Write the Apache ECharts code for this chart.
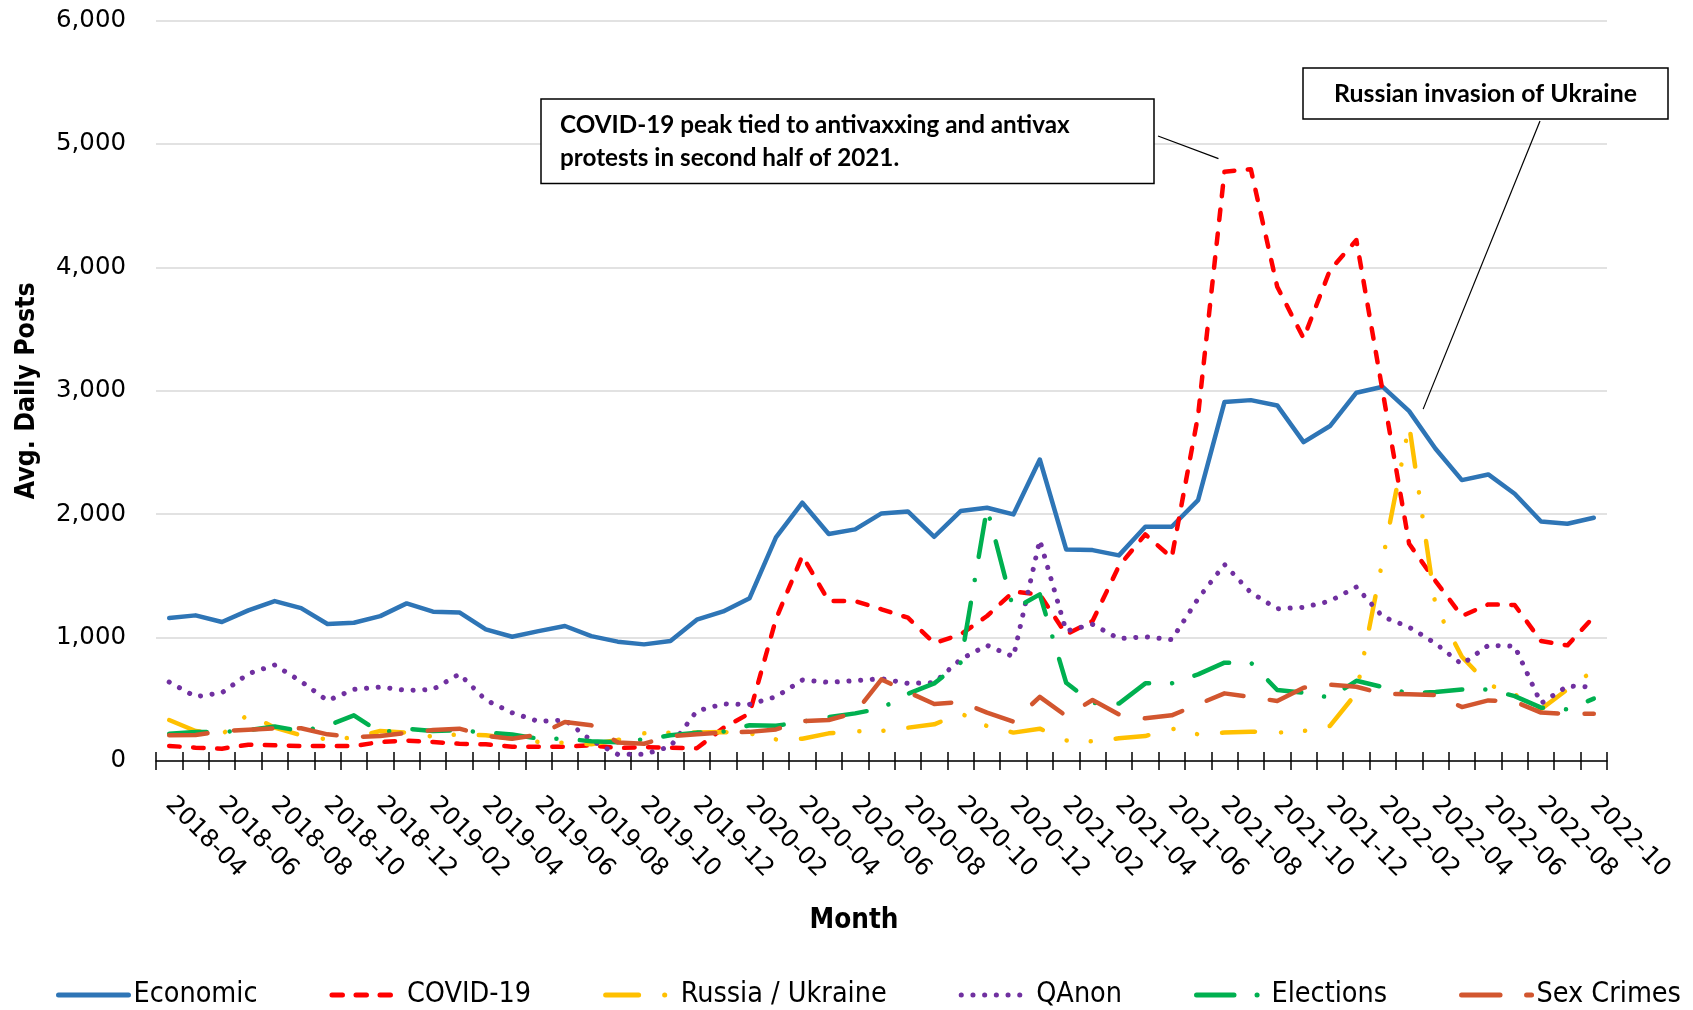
<!DOCTYPE html>
<html><head><meta charset="utf-8">
<script src="https://cdn.jsdelivr.net/npm/echarts@6/dist/echarts.min.js"></script>
<style>html,body{margin:0;padding:0;background:#fff}#c{width:1693px;height:1010px}</style>
</head><body><div id="c"></div>
<script>
const months = ['2018-04','2018-05','2018-06','2018-07','2018-08','2018-09','2018-10','2018-11','2018-12',
  '2019-01','2019-02','2019-03','2019-04','2019-05','2019-06','2019-07','2019-08','2019-09','2019-10','2019-11','2019-12',
  '2020-01','2020-02','2020-03','2020-04','2020-05','2020-06','2020-07','2020-08','2020-09','2020-10','2020-11','2020-12',
  '2021-01','2021-02','2021-03','2021-04','2021-05','2021-06','2021-07','2021-08','2021-09','2021-10','2021-11','2021-12',
  '2022-01','2022-02','2022-03','2022-04','2022-05','2022-06','2022-07','2022-08','2022-09','2022-10'];
const economic = [1158,1180,1126,1220,1296,1239,1110,1120,1174,1277,1210,1204,1066,1007,1052,1094,1012,967,945,972,1145,1212,1319,1812,2093,1839,1877,2006,2022,1817,2025,2052,1998,2443,1714,1709,1666,1898,1898,2114,2908,2924,2881,2584,2714,2984,3032,2835,2530,2276,2322,2165,1941,1922,1971];
const covid = [122,108,100,132,127,122,122,122,154,165,154,140,135,116,116,116,127,105,113,108,103,267,386,1150,1663,1296,1296,1229,1161,955,1026,1175,1372,1350,1026,1134,1580,1836,1647,2800,4775,4794,3843,3425,3978,4221,2990,1760,1458,1175,1269,1264,972,937,1169];
const russia = [332,243,216,378,270,208,175,190,243,230,197,216,208,181,154,148,135,170,224,230,230,235,224,175,180,224,240,243,270,297,386,283,230,262,167,159,184,202,262,216,230,238,230,243,284,550,1634,2722,1256,845,620,540,420,580,735];
const qanon = [640,521,553,707,778,645,489,580,600,572,580,705,494,391,321,332,167,54,54,118,405,462,459,521,656,637,651,667,629,635,824,937,845,1790,1053,1107,991,1007,983,1315,1593,1364,1234,1245,1296,1410,1169,1085,953,783,937,931,467,607,600];
const elections = [221,235,235,250,280,243,285,370,230,262,243,248,230,215,181,181,160,151,175,208,230,238,290,285,319,356,386,427,545,629,797,2050,1229,1350,634,470,465,629,629,702,797,797,575,553,513,650,599,548,559,580,580,526,432,418,505];
const sexCrimes = [208,211,243,254,265,265,216,194,203,227,251,262,203,181,213,316,289,150,140,202,216,232,236,256,324,332,391,661,559,462,478,392,319,520,365,494,378,346,370,459,548,518,486,594,618,602,545,540,535,437,491,481,392,381,383];
const seriesNames = ['Economic','COVID-19','Russia / Ukraine','QAnon','Elections','Sex Crimes'];
const yMin = 0, yMax = 6000, yStep = 1000;
const note1 = 'COVID-19 peak tied to antivaxxing and antivax\nprotests in second half of 2021.';
const note2 = 'Russian invasion of Ukraine';

const ctx = document.createElement('canvas').getContext('2d');
function tw(text, font){ ctx.font = font; return ctx.measureText(text).width; }
function fit(text, weight, family, target){ return 100 * target / tw(text, weight + ' 100px ' + family); }

const NARROW = '"Liberation Sans Narrow", "DejaVu Sans Condensed", "Roboto", sans-serif';
const LABEL = '"DejaVu Sans", Verdana, sans-serif';
const NOTE = 'Lato, "Open Sans", sans-serif';
const ySize = fit('6,000', 'normal', LABEL, 70);
const xSize = ySize;
const legSize = fit('Economic', 'normal', NARROW, 124);
const ytSize = fit('Avg. Daily Posts', 'bold', NARROW, 217);
const mSize = fit('Month', 'bold', NARROW, 89);
const n1Size = fit('COVID-19 peak tied to antivaxxing and antivax', 'bold', NOTE, 510);
const n2Size = fit(note2, 'bold', NOTE, 303);

const colors = ['#2E75B6','#FF0000','#FFC000','#7030A0','#00B050','#D2562F'];
const dashes = [null, [10.5,13.5], [33,26,0.1,24,0.1,25], [0.1,11.6], [37.5,23,0.1,23.4], [38.5,26.5]];
const datas = [economic, covid, russia, qanon, elections, sexCrimes];

const chart = echarts.init(document.getElementById('c'), null, {renderer:'canvas'});
const gridH = 1010 - 20.5 - 249;
chart.setOption({
  animation: false,
  backgroundColor: '#fff',
  grid: {left:156, right:86, top:20.5, bottom:249, containLabel:false},
  xAxis: [{
    type:'category', data: months, boundaryGap:true,
    axisLine:{onZero:false, lineStyle:{color:'#000', width:1.5}},
    axisTick:{show:true, interval:0, length:9, lineStyle:{color:'#000', width:1.5}},
    axisLabel:{interval:1, rotate:-45, margin:40, fontFamily:LABEL, fontSize:xSize, color:'#000'},
    splitLine:{show:false},
    name:'Month', nameLocation:'middle', nameGap: 162 - mSize*0.6,
    nameTextStyle:{fontFamily:NARROW, fontWeight:'bold', fontSize:mSize, color:'#000', padding:[0,55,0,0]}
  },{
    type:'category', data: months, boundaryGap:true, position:'top', offset:-gridH,
    axisLine:{show:false, onZero:false}, axisLabel:{show:false}, splitLine:{show:false},
    axisTick:{show:true, interval:0, length:9, lineStyle:{color:'#000', width:1.5}}
  }],
  yAxis: {
    type:'value', min:yMin, max:yMax, interval:yStep,
    axisLine:{show:false}, axisTick:{show:false},
    splitLine:{lineStyle:{color:'#D9D9D9', width:1.5}},
    axisLabel:{margin:30, fontFamily:LABEL, fontSize:ySize, color:'#000', formatter: v => v.toLocaleString('en-US')},
    name:'Avg. Daily Posts', nameLocation:'middle', nameRotate:90, nameGap: 132 - ytSize*0.6,
    nameTextStyle:{fontFamily:NARROW, fontWeight:'bold', fontSize:ytSize, color:'#000'}
  },
  legend: {
    left:51, top: 993 - legSize*0.6, itemWidth:70, itemHeight:14, itemGap:72,
    data: seriesNames,
    textStyle:{fontFamily:NARROW, fontSize:legSize, color:'#000'},
    itemStyle:{color:'rgba(0,0,0,0)', borderColor:'rgba(0,0,0,0)', borderWidth:0},
    lineStyle:{width:5}
  },
  series: seriesNames.map((n,i)=>({
    name:n, type:'line', symbol:'none', data: datas[i], color: colors[i],
    lineStyle:{width: i===3?5:4.5, color:colors[i], type: dashes[i] || 'solid', cap:'round', join:'round'}
  }))
});

function place(){
  const p1 = chart.convertToPixel({seriesIndex:1}, [40, covid[40]]);
  const p2 = chart.convertToPixel({seriesIndex:0}, [47, economic[47]]);
  chart.setOption({graphic:[
    {type:'line', z:50, shape:{x1:1158, y1:136, x2:p1[0]-6, y2:p1[1]-13}, style:{stroke:'#000', lineWidth:1.2}},
    {type:'line', z:50, shape:{x1:1540, y1:121, x2:p2[0]+14, y2:p2[1]-2}, style:{stroke:'#000', lineWidth:1.2}},
    {type:'rect', z:60, shape:{x:541, y:99, width:613, height:84.5}, style:{fill:'#fff', stroke:'#000', lineWidth:1.5}},
    {type:'text', z:61, x:560, y:141.5, style:{text:note1, fontFamily:NOTE, fontWeight:'bold', fontSize:n1Size, lineHeight:33, fill:'#000', align:'left', verticalAlign:'middle'}},
    {type:'rect', z:60, shape:{x:1303, y:68, width:365, height:51}, style:{fill:'#fff', stroke:'#000', lineWidth:1.5}},
    {type:'text', z:61, x:1485.5, y:93.5, style:{text:note2, fontFamily:NOTE, fontWeight:'bold', fontSize:n2Size, fill:'#000', align:'center', verticalAlign:'middle'}}
  ]});
}
place();
</script>
</body></html>
